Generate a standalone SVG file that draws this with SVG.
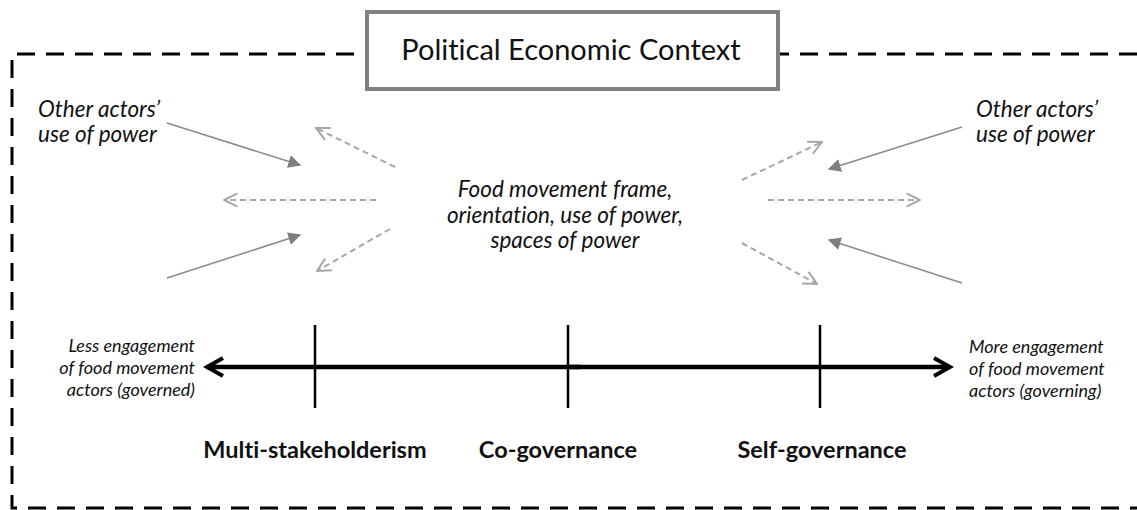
<svg xmlns="http://www.w3.org/2000/svg" width="1137" height="510" viewBox="0 0 1137 510">
<style>
text{font-family:Lato,"Open Sans","Liberation Sans",sans-serif;fill:#111;font-variant-ligatures:none}
.it{font-style:italic}
.side{font-size:22.5px}
.ctr{font-size:22.5px}
.axl{font-size:18px}
.bold{font-size:23.5px;font-weight:bold}
.solid{stroke:#8a8a8a;stroke-width:1.5;fill:none}
.dash{stroke:#a6a6a6;stroke-width:2;stroke-dasharray:6 4;fill:none}
.tick{stroke:#000;stroke-width:2.5}
</style>
<defs>
<marker id="filled" viewBox="0 0 10 10" refX="9" refY="5" markerWidth="13" markerHeight="13" markerUnits="userSpaceOnUse" orient="auto">
<path d="M0,0 L10,5 L0,10 z" fill="#7f7f7f"/>
</marker>
<marker id="open" viewBox="0 0 12 12" refX="11" refY="6" markerWidth="16" markerHeight="16" markerUnits="userSpaceOnUse" orient="auto">
<path d="M1,1 L11,6 L1,11" fill="none" stroke="#a6a6a6" stroke-width="1.5"/>
</marker>
<marker id="chev" viewBox="0 0 12 12" refX="10" refY="6" markerWidth="24" markerHeight="24" markerUnits="userSpaceOnUse" orient="auto">
<path d="M2,1.5 L10,6 L2,10.5" fill="none" stroke="#000" stroke-width="2" stroke-linejoin="miter"/>
</marker>
</defs>
<g id="context-border">
<path d="M1137,54 H12 V508 H1137" fill="none" stroke="#000" stroke-width="3" stroke-dasharray="18 11"/>
</g>
<g id="title">
<rect x="367" y="12" width="411" height="77" fill="#fff" stroke="#808080" stroke-width="4"/>
<text x="571" y="60" font-size="29" text-anchor="middle">Political Economic Context</text>
</g>
<g id="left-actors">
<text class="it side" x="38" y="117">Other actors’</text>
<text class="it side" x="38" y="142">use of power</text>
</g>
<g id="right-actors">
<text class="it side" x="976" y="117">Other actors’</text>
<text class="it side" x="976" y="142">use of power</text>
</g>
<g id="food-movement">
<text class="it ctr" x="565" y="197" text-anchor="middle">Food movement frame,</text>
<text class="it ctr" x="565" y="223" text-anchor="middle">orientation, use of power,</text>
<text class="it ctr" x="565" y="248" text-anchor="middle">spaces of power</text>
</g>
<g id="left-axis-label">
<text class="it axl" x="195" y="352" text-anchor="end">Less engagement</text>
<text class="it axl" x="195" y="374" text-anchor="end">of food movement</text>
<text class="it axl" x="195" y="396" text-anchor="end">actors (governed)</text>
</g>
<g id="right-axis-label">
<text class="it axl" x="969" y="353">More engagement</text>
<text class="it axl" x="969" y="375">of food movement</text>
<text class="it axl" x="969" y="397">actors (governing)</text>
</g>
<g id="multi-stakeholderism">
<text class="bold" x="315" y="458" text-anchor="middle">Multi-stakeholderism</text>
</g>
<g id="co-governance">
<text class="bold" x="558" y="458" text-anchor="middle">Co-governance</text>
</g>
<g id="self-governance">
<text class="bold" x="822" y="458" text-anchor="middle">Self-governance</text>
</g>
<g id="connectors">
<line class="solid" x1="167" y1="123" x2="300" y2="165" marker-end="url(#filled)"/>
<line class="solid" x1="167" y1="278" x2="300" y2="235" marker-end="url(#filled)"/>
<line class="dash" x1="395" y1="167" x2="316" y2="128" marker-end="url(#open)"/>
<line class="dash" x1="376" y1="200" x2="224" y2="200" marker-end="url(#open)"/>
<line class="dash" x1="390" y1="229" x2="317" y2="271" marker-end="url(#open)"/>
<line class="solid" x1="962" y1="127" x2="829" y2="169" marker-end="url(#filled)"/>
<line class="solid" x1="962" y1="283" x2="829" y2="240" marker-end="url(#filled)"/>
<line class="dash" x1="742" y1="180" x2="822" y2="142" marker-end="url(#open)"/>
<line class="dash" x1="768" y1="200" x2="920" y2="200" marker-end="url(#open)"/>
<line class="dash" x1="742" y1="243" x2="817" y2="284" marker-end="url(#open)"/>
<line x1="580" y1="367" x2="207" y2="367" stroke="#000" stroke-width="4.5" marker-end="url(#chev)"/>
<line x1="570" y1="367" x2="950" y2="367" stroke="#000" stroke-width="4.5" marker-end="url(#chev)"/>
<line class="tick" x1="315" y1="325" x2="315" y2="408"/>
<line class="tick" x1="568" y1="325" x2="568" y2="408"/>
<line class="tick" x1="820" y1="325" x2="820" y2="408"/>
</g>
</svg>
